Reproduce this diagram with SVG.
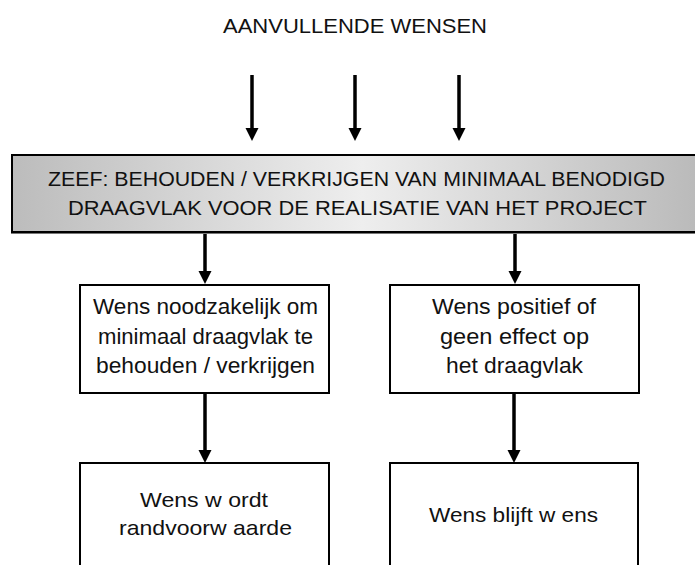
<svg xmlns="http://www.w3.org/2000/svg" width="695" height="565" viewBox="0 0 695 565">
  <defs>
    <linearGradient id="sieveFill" x1="0" y1="0" x2="1" y2="0">
      <stop offset="0" stop-color="#bcbcbc"/>
      <stop offset="0.5" stop-color="#eeeeee"/>
      <stop offset="1" stop-color="#b8b8b8"/>
    </linearGradient>
    <marker id="head" markerUnits="userSpaceOnUse" markerWidth="14" markerHeight="14" refX="2" refY="6.5" orient="auto">
      <path d="M0,0 L13,6.5 L0,13 z" fill="#000"/>
    </marker>
  </defs>
  <style>
    text { font-family: "Liberation Sans", Arial, sans-serif; fill: #111; }
    .box { fill: #fff; stroke: #000; stroke-width: 2; }
    .sieve { fill: url(#sieveFill); stroke: #000; stroke-width: 2; }
    .arrow { stroke: #000; stroke-width: 3.5; fill: none; marker-end: url(#head); }
    .t22 { font-size: 22px; }
    .t21 { font-size: 21px; }
    .t19 { font-size: 19.5px; }
  </style>

  <rect width="695" height="565" fill="#fff"/>

  <g id="title">
    <text class="t19" x="223" y="33" textLength="264" lengthAdjust="spacingAndGlyphs">AANVULLENDE  WENSEN</text>
  </g>

  <g id="sieve">
    <rect x="11" y="156" width="700" height="78" fill="#777"/>
    <rect class="sieve" x="12" y="155" width="700" height="77"/>
    <text class="t19" x="48" y="186" textLength="617" lengthAdjust="spacingAndGlyphs">ZEEF: BEHOUDEN / VERKRIJGEN VAN MINIMAAL BENODIGD</text>
    <text class="t19" x="68" y="215" textLength="579" lengthAdjust="spacingAndGlyphs">DRAAGVLAK VOOR DE REALISATIE VAN HET PROJECT</text>
  </g>

  <g id="needed">
    <rect class="box" x="80" y="285" width="249" height="108"/>
    <text class="t22" x="93" y="314" textLength="225" lengthAdjust="spacingAndGlyphs">Wens noodzakelijk om</text>
    <text class="t22" x="98" y="344" textLength="215" lengthAdjust="spacingAndGlyphs">minimaal draagvlak te</text>
    <text class="t22" x="96" y="373" textLength="219" lengthAdjust="spacingAndGlyphs">behouden / verkrijgen</text>
  </g>

  <g id="neutral">
    <rect class="box" x="390" y="285" width="249" height="108"/>
    <text class="t22" x="432" y="314" textLength="164" lengthAdjust="spacingAndGlyphs">Wens positief of</text>
    <text class="t22" x="440" y="344" textLength="149" lengthAdjust="spacingAndGlyphs">geen effect op</text>
    <text class="t22" x="446" y="373" textLength="137" lengthAdjust="spacingAndGlyphs">het draagvlak</text>
  </g>

  <g id="condition">
    <rect class="box" x="80" y="463" width="249" height="120"/>
    <text class="t21" x="140" y="507" textLength="128" lengthAdjust="spacingAndGlyphs">Wens w ordt</text>
    <text class="t21" x="119" y="535" textLength="173" lengthAdjust="spacingAndGlyphs">randvoorw aarde</text>
  </g>

  <g id="wish">
    <rect class="box" x="390" y="463" width="248" height="120"/>
    <text class="t21" x="429" y="522" textLength="169" lengthAdjust="spacingAndGlyphs">Wens blijft w ens</text>
  </g>

  <g id="connectors">
    <line class="arrow" x1="252" y1="75" x2="252" y2="130"/>
    <line class="arrow" x1="355" y1="75" x2="355" y2="130"/>
    <line class="arrow" x1="459" y1="75" x2="459" y2="130"/>
    <line class="arrow" x1="205" y1="234" x2="205" y2="273"/>
    <line class="arrow" x1="515" y1="234" x2="515" y2="273"/>
    <line class="arrow" x1="205" y1="393" x2="205" y2="452"/>
    <line class="arrow" x1="514" y1="393" x2="514" y2="452"/>
  </g>
</svg>
